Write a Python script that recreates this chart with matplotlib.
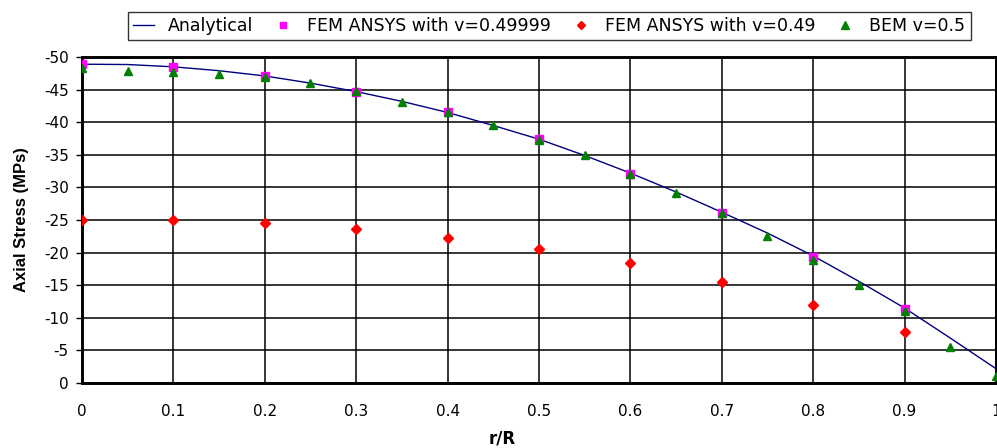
import numpy as np
import matplotlib
matplotlib.use("Agg")
import matplotlib.pyplot as plt
from matplotlib.ticker import FuncFormatter, MultipleLocator

plt.rcParams['font.family'] = ['DejaVu Sans']
plt.rcParams['axes.unicode_minus'] = False

# analytical curve
r_analytical = [0, 0.05, 0.1, 0.15, 0.2, 0.25, 0.3, 0.35, 0.4, 0.45, 0.5,
                0.55, 0.6, 0.65, 0.7, 0.75, 0.8, 0.85, 0.9, 0.95, 1.0]
s_analytical = [-48.9, -48.85, -48.5, -47.9, -47.1, -46.0, -44.7, -43.2, -41.5, -39.5, -37.4,
                -34.9, -32.2, -29.3, -26.2, -23.0, -19.5, -15.6, -11.5, -6.9, -2.2]

# FEM ANSYS nu=0.49999
r_fem1 = [0, 0.1, 0.2, 0.3, 0.4, 0.5, 0.6, 0.7, 0.8, 0.9]
s_fem1 = [-48.9, -48.5, -47.1, -44.6, -41.5, -37.4, -32.1, -26.1, -19.4, -11.3]

# FEM ANSYS nu=0.49
r_fem2 = [0, 0.1, 0.2, 0.3, 0.4, 0.5, 0.6, 0.7, 0.8, 0.9]
s_fem2 = [-25.0, -25.0, -24.5, -23.6, -22.2, -20.6, -18.4, -15.5, -12.0, -7.8]

# BEM nu=0.5
r_bem = [0, 0.05, 0.1, 0.15, 0.2, 0.25, 0.3, 0.35, 0.4, 0.45, 0.5,
         0.55, 0.6, 0.65, 0.7, 0.75, 0.8, 0.85, 0.9, 0.95, 1.0]
s_bem = [-48.3, -47.8, -47.7, -47.4, -47.0, -46.0, -44.8, -43.1, -41.5, -39.5, -37.3,
         -34.9, -32.1, -29.1, -26.1, -22.6, -18.9, -15.0, -11.0, -5.6, -1.1]

fig = plt.figure(figsize=(9.97, 4.48), dpi=100)
ax = fig.add_axes([0.0822, 0.145, 0.9168, 0.7277])

ax.plot(r_analytical, s_analytical, color='#000080', lw=1.0, label='Analytical', zorder=3)
ax.plot(r_fem1, s_fem1, ls='none', marker='s', ms=5.5, color='#FF00FF',
        label='FEM ANSYS with v=0.49999', zorder=4)
ax.plot(r_fem2, s_fem2, ls='none', marker='D', ms=4.6, color='#FF0000',
        label='FEM ANSYS with v=0.49', zorder=4)
ax.plot(r_bem, s_bem, ls='none', marker='^', ms=6.4, color='#008000',
        label='BEM v=0.5', zorder=5)

ax.set_xlim(0, 1)
ax.set_ylim(0, -50)
ax.xaxis.set_major_locator(MultipleLocator(0.1))
ax.yaxis.set_major_locator(MultipleLocator(5))
ax.xaxis.set_major_formatter(FuncFormatter(lambda v, p: '%g' % round(v, 2)))
ax.yaxis.set_major_formatter(FuncFormatter(lambda v, p: '%g' % round(v, 2)))

ax.grid(True, color='black', lw=1.1)
ax.set_axisbelow(True)
for side in ['left', 'bottom', 'top', 'right']:
    ax.spines[side].set_linewidth(2.1)

ax.tick_params(axis='x', length=0, pad=15, labelsize=11)
ax.tick_params(axis='y', length=4.5, width=1, pad=5, labelsize=11)

ax.set_xlabel('r/R', fontweight='bold', fontsize=12)
ax.xaxis.set_label_coords(0.46, -0.142)
ax.set_ylabel('Axial Stress (MPs)', fontweight='bold', fontsize=12,
              family=['Liberation Sans', 'DejaVu Sans'])
ax.yaxis.set_label_coords(-0.058, 0.5)

leg = fig.legend(loc='center', bbox_to_anchor=(0.551, 0.942), ncol=4, fontsize=12.5,
                 frameon=True, fancybox=False, edgecolor='black', handlelength=1.2,
                 markerscale=0.85, columnspacing=1.13, handletextpad=0.78, borderpad=0.3)
leg.get_frame().set_linewidth(1.0)

fig.savefig('out.png', dpi=100)
